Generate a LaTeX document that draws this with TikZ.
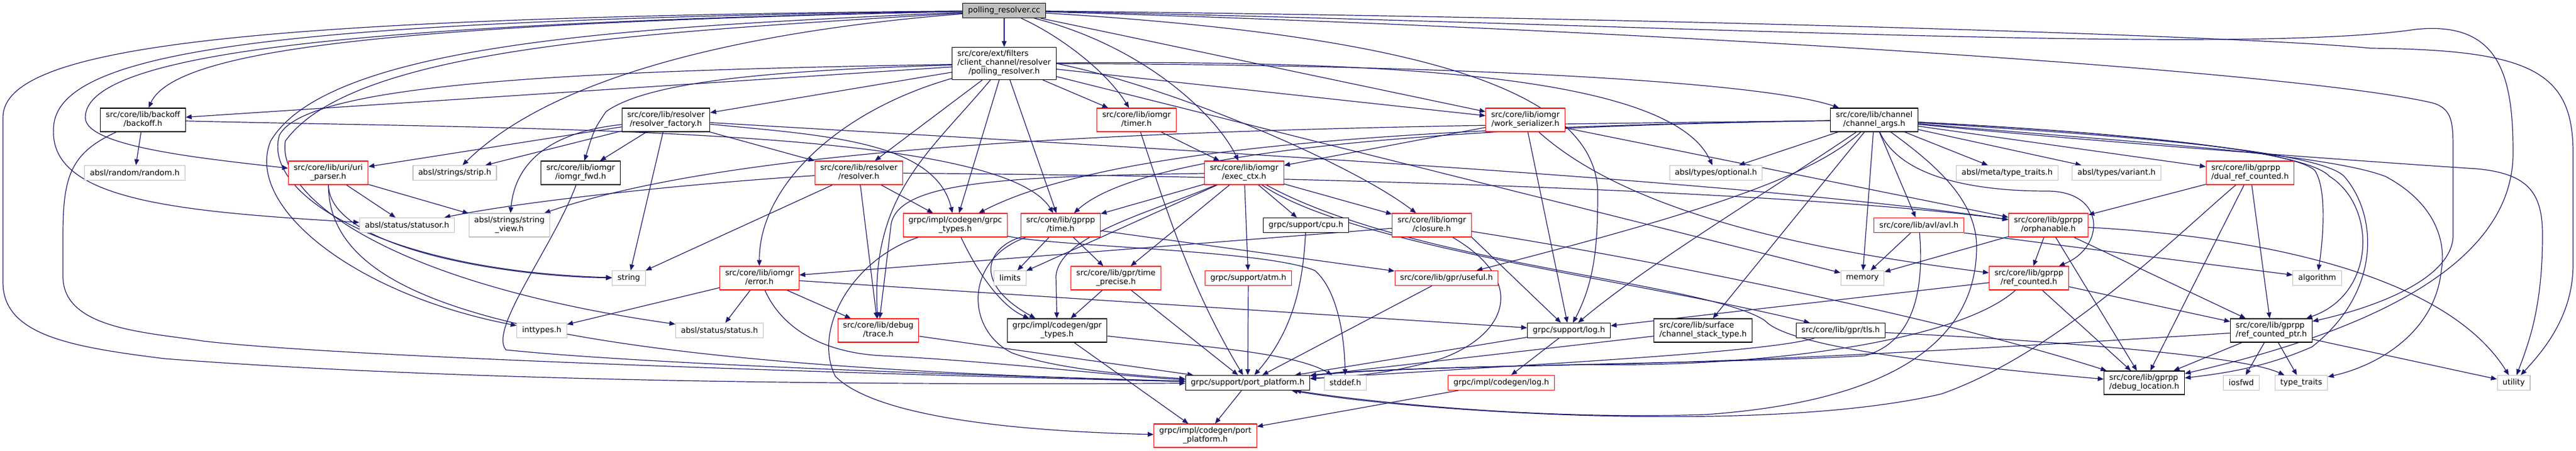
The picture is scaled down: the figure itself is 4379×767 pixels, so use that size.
\documentclass[tikz,border=0pt]{standalone}
\usepackage{fontspec}
\setmainfont{DejaVu Sans}
\usetikzlibrary{arrows.meta,backgrounds}
\definecolor{edgeblue}{HTML}{191970}
\definecolor{boxgray}{HTML}{BFBFBF}
\definecolor{boxred}{HTML}{FF0000}
% two or more lines: upper lines left, last line centred
\newcommand{\dlab}[2]{\begin{tabular}{@{}l@{}}#1\\\multicolumn{1}{@{}c@{}}{#2}\end{tabular}}

\begin{document}
\begin{tikzpicture}[
    x=1pt, y=-1pt,
    % GLOBAL CFG
    font=\fontsize{13.33}{15}\selectfont,
    % Styles
    basefile/.style={% For every header box
        rectangle,
        draw,
        fill=white,
        line width=1.2pt,
        inner xsep=9pt,
        inner ysep=5pt,
        minimum height=25pt,
        },
    topfile/.style={% For the file itself
        basefile,
        draw=black,
        fill=boxgray,
        },
    docfile/.style={% For documented headers
        basefile,
        draw=black,
        },
    redfile/.style={% For headers with a truncated graph
        basefile,
        draw=boxred,
        },
    extfile/.style={% For system and external headers
        basefile,
        draw=boxgray,
        },
    incl/.style={% Include arrows
        draw=edgeblue,
        line width=1.2pt,
        -{Triangle[length=10pt,width=8pt]},
        },
    ]
\useasboundingbox (0,0) rectangle (4379,767);

%Start drawing the thing...
    % Row 0 and 1
    \node [topfile] (cc) at (1707,18) {polling\_resolver.cc};
    \node [docfile] (prh) at (1707,108) {\dlab{src/core/ext/filters\\/client\_channel/resolver}{/polling\_resolver.h}};

    % Row 2
    \node [docfile] (backoff) at (243,204) {\dlab{src/core/lib/backoff}{/backoff.h}};
    \node [docfile] (rfactory) at (1132,204) {\dlab{src/core/lib/resolver}{/resolver\_factory.h}};
    \node [redfile] (timer) at (1932,204) {\dlab{src/core/lib/iomgr}{/timer.h}};
    \node [redfile] (workser) at (2593,204) {\dlab{src/core/lib/iomgr}{/work\_serializer.h}};
    \node [docfile] (chargs) at (3186,204) {\dlab{src/core/lib/channel}{/channel\_args.h}};

    % Row 3
    \node [extfile] (random) at (229,294) {absl/random/random.h};
    \node [redfile] (uri) at (558,294) {\dlab{src/core/lib/uri/uri}{\_parser.h}};
    \node [extfile] (strip) at (773,294) {absl/strings/strip.h};
    \node [docfile] (iofwd) at (987,294) {\dlab{src/core/lib/iomgr}{/iomgr\_fwd.h}};
    \node [redfile] (resolver) at (1460,294) {\dlab{src/core/lib/resolver}{/resolver.h}};
    \node [redfile] (execctx) at (2115,294) {\dlab{src/core/lib/iomgr}{/exec\_ctx.h}};
    \node [extfile] (optional) at (2917,294) {absl/types/optional.h};
    \node [extfile] (metatt) at (3412,294) {absl/meta/type\_traits.h};
    \node [extfile] (variant) at (3598,294) {absl/types/variant.h};
    \node [redfile] (dualref) at (3825,294) {\dlab{src/core/lib/gprpp}{/dual\_ref\_counted.h}};

    % Row 4
    \node [extfile] (statusor) at (692,383) {absl/status/statusor.h};
    \node [extfile] (strview) at (866,383) {\dlab{absl/strings/string}{\_view.h}};
    \node [redfile] (grpctypes) at (1624,383) {\dlab{grpc/impl/codegen/grpc}{\_types.h}};
    \node [redfile] (time) at (1803,383) {\dlab{src/core/lib/gprpp}{/time.h}};
    \node [docfile] (cpu) at (2220,383) {grpc/support/cpu.h};
    \node [redfile] (closure) at (2434,383) {\dlab{src/core/lib/iomgr}{/closure.h}};
    \node [redfile] (avl) at (3262,383) {src/core/lib/avl/avl.h};
    \node [redfile] (orphan) at (3482,383) {\dlab{src/core/lib/gprpp}{/orphanable.h}};

    % Row 5
    \node [extfile] (string) at (1069,473) {string};
    \node [redfile] (error) at (1291,473) {\dlab{src/core/lib/iomgr}{/error.h}};
    \node [extfile] (limits) at (1717,473) {limits};
    \node [redfile] (tprecise) at (1897,473) {\dlab{src/core/lib/gpr/time}{\_precise.h}};
    \node [redfile] (atm) at (2122,473) {grpc/support/atm.h};
    \node [redfile] (useful) at (2459,473) {src/core/lib/gpr/useful.h};
    \node [extfile] (memory) at (3166,473) {memory};
    \node [redfile] (refcnt) at (3449,473) {\dlab{src/core/lib/gprpp}{/ref\_counted.h}};
    \node [extfile] (algorithm) at (3939,473) {algorithm};

    % Row 6
    \node [extfile] (inttypes) at (921,562) {inttypes.h};
    \node [extfile] (status) at (1223,562) {absl/status/status.h};
    \node [redfile] (trace) at (1493,562) {\dlab{src/core/lib/debug}{/trace.h}};
    \node [docfile] (gprtypes) at (1797,562) {\dlab{grpc/impl/codegen/gpr}{\_types.h}};
    \node [docfile] (log) at (2667,562) {grpc/support/log.h};
    \node [docfile] (chstack) at (2895,562) {\dlab{src/core/lib/surface}{/channel\_stack\_type.h}};
    \node [docfile] (tls) at (3129,562) {src/core/lib/gpr/tls.h};
    \node [docfile] (refptr) at (3861,562) {\dlab{src/core/lib/gprpp}{/ref\_counted\_ptr.h}};

    % Row 7 and 8
    \node [docfile] (portplat) at (2121,651) {grpc/support/port\_platform.h};
    \node [extfile] (stddef) at (2287,651) {stddef.h};
    \node [redfile] (cglog) at (2552,651) {grpc/impl/codegen/log.h};
    \node [docfile] (debugloc) at (3645,651) {\dlab{src/core/lib/gprpp}{/debug\_location.h}};
    \node [extfile] (iosfwd) at (3810,651) {iosfwd};
    \node [extfile] (typetraits) at (3912,651) {type\_traits};
    \node [extfile] (utility) at (4273,651) {utility};
    \node [redfile] (cgport) at (2049,741) {\dlab{grpc/impl/codegen/port}{\_platform.h}};

% Start connecting all.
\begin{scope}[on background layer]
    % From polling_resolver.cc
    \draw [incl] (cc) -- (prh);
    \draw [incl] (cc) .. controls (700,40) and (300,80) .. (backoff);
    \draw [incl] (cc) .. controls (600,40) and (145,90) .. (145,200) .. controls (145,250) and (350,270) .. (uri);
    \draw [incl] (cc) .. controls (500,35) and (91,80) .. (91,220) .. controls (85,340) and (300,360) .. (statusor);
    \draw [incl] (cc) .. controls (400,30) and (5,80) .. (5,200) -- (5,480) .. controls (5,570) and (120,590) .. (280,610) .. controls (800,650) and (1500,655) .. (portplat);
    \draw [incl] (cc) .. controls (1300,50) and (950,120) .. (strip);
    \draw [incl] (cc) .. controls (1100,45) and (560,70) .. (460,240) .. controls (415,350) and (600,500) .. (inttypes);
    \draw [incl] (cc) .. controls (1100,55) and (600,80) .. (485,240) .. controls (470,330) and (650,480) .. (status);
    \draw [incl] (cc) .. controls (1800,60) and (1880,120) .. (timer);
    \draw [incl] (cc) .. controls (1950,80) and (2070,200) .. (execctx);
    \draw [incl] (cc) -- (workser);
    \draw [incl] (cc) .. controls (2400,60) and (2716,150) .. (2716,330) .. controls (2716,420) and (2710,480) .. (log);
    \draw [incl] (cc) .. controls (2800,50) and (3900,120) .. (4135,175) .. controls (4170,185) and (4170,210) .. (4170,260) -- (4170,400) .. controls (4170,470) and (4050,520) .. (refptr);
    \draw [incl] (cc) .. controls (2800,40) and (3800,95) .. (4106,50) .. controls (4250,35) and (4272,130) .. (4272,260) .. controls (4272,460) and (4000,570) .. (debugloc);
    \draw [incl] (cc) .. controls (2800,30) and (3800,60) .. (4030,82) .. controls (4300,85) and (4374,120) .. (4374,260) -- (4374,450) .. controls (4374,540) and (4320,600) .. (utility);

    % From polling_resolver.h
    \draw [incl] (prh) -- (backoff);
    \draw [incl] (prh) -- (rfactory);
    \draw [incl] (prh) -- (timer);
    \draw [incl] (prh) -- (workser);
    \draw [incl] (prh) .. controls (2500,110) and (3000,140) .. (chargs);
    \draw [incl] (prh) .. controls (1300,120) and (1100,140) .. (1030,190) .. controls (1010,220) .. (iofwd);
    \draw [incl] (prh) -- (resolver);
    \draw [incl] (prh) .. controls (2500,100) and (2850,150) .. (optional);
    \draw [incl] (prh) -- (grpctypes);
    \draw [incl] (prh) -- (time);
    \draw [incl] (prh.east) .. controls (2000,150) and (2300,280) .. (closure);
    \draw [incl] (prh) .. controls (1420,190) and (1290,320) .. (error);
    \draw [incl] (prh) .. controls (1580,260) and (1480,330) .. (trace);
    \draw [incl] (prh) -- (memory);
    \draw [incl] (prh) .. controls (1000,120) and (520,140) .. (475,230) .. controls (445,330) and (650,460) .. (string);

    % From the second row
    \draw [incl] (backoff) -- (random);
    \draw [incl] (backoff) .. controls (900,220) and (1700,215) .. (time);
    \draw [incl] (backoff) .. controls (120,260) and (107,300) .. (107,400) -- (107,470) .. controls (107,560) and (250,565) .. (345,580) .. controls (600,610) and (1600,640) .. (portplat);
    \draw [incl] (rfactory) -- (iofwd);
    \draw [incl] (rfactory) -- (strip);
    \draw [incl] (rfactory) -- (uri);
    \draw [incl] (rfactory) .. controls (930,225) and (875,280) .. (strview);
    \draw [incl] (rfactory) -- (resolver);
    \draw [incl] (rfactory) -- (string);
    \draw [incl] (rfactory) .. controls (1400,230) and (1590,240) .. (grpctypes);
    \draw [incl] (rfactory) .. controls (1900,250) and (2900,300) .. (orphan);
    \draw [incl] (timer) -- (execctx);
    \draw [incl] (timer) .. controls (1990,380) and (2030,500) .. (portplat);
    \draw [incl] (workser) -- (execctx);
    \draw [incl] (workser) -- (log);
    \draw [incl] (workser) -- (orphan);
    \draw [incl] (workser) .. controls (2800,390) and (3200,440) .. (refcnt);

    % From channel_args.h
    \draw [incl] (chargs) -- (optional);
    \draw [incl] (chargs) -- (metatt);
    \draw [incl] (chargs) -- (variant);
    \draw [incl] (chargs) -- (dualref);
    \draw [incl] (chargs) -- (avl);
    \draw [incl] (chargs) -- (memory);
    \draw [incl] (chargs) -- (chstack);
    \draw [incl] (chargs) .. controls (3080,300) and (2900,360) .. (useful);
    \draw [incl] (chargs) .. controls (3000,330) and (2800,450) .. (log);
    \draw [incl] (chargs) .. controls (3230,300) and (3350,325) .. (3480,325) .. controls (3580,325) and (3580,420) .. (refcnt);
    \draw [incl] (chargs) .. controls (3290,280) and (3360,340) .. (3360,420) .. controls (3360,560) and (3250,680) .. (2900,705) .. controls (2600,715) and (2300,680) .. (portplat);
    \draw [incl] (chargs) .. controls (2500,215) and (1900,240) .. (grpctypes);
    \draw [incl] (chargs) .. controls (2500,215) and (1950,250) .. (time);
    \draw [incl] (chargs) .. controls (2400,215) and (1350,215) .. (strview);
    \draw [incl] (chargs) .. controls (3600,225) and (3900,255) .. (3935,290) .. controls (3955,320) and (3950,400) .. (algorithm);
    \draw [incl] (chargs) .. controls (3600,225) and (3920,255) .. (3960,300) .. controls (4040,350) and (4040,500) .. (refptr);
    \draw [incl] (chargs) .. controls (3600,230) and (3940,255) .. (3985,300) .. controls (4045,370) and (4045,500) .. (3930,590) .. controls (3850,625) and (3780,635) .. (debugloc);
    \draw [incl] (chargs) .. controls (3600,240) and (3950,260) .. (4055,300) .. controls (4130,340) and (4160,400) .. (4150,460) .. controls (4140,560) and (4050,620) .. (typetraits);
    \draw [incl] (chargs) .. controls (3600,245) and (4100,280) .. (4209,287) .. controls (4300,295) and (4322,330) .. (4322,400) .. controls (4322,520) and (4300,580) .. (utility);

    % From the third row
    \draw [incl] (uri) -- (statusor);
    \draw [incl] (uri) -- (strview);
    \draw [incl] (uri) .. controls (560,420) and (850,470) .. (string);
    \draw [incl] (uri) .. controls (560,520) and (900,620) .. (portplat);
    \draw [incl] (iofwd) .. controls (940,420) and (830,560) .. (860,595) .. controls (1100,620) and (1700,640) .. (portplat);
    \draw [incl] (resolver) -- (grpctypes);
    \draw [incl] (resolver) .. controls (1200,310) and (900,340) .. (statusor);
    \draw [incl] (resolver) -- (string);
    \draw [incl] (resolver) -- (trace);
    \draw [incl] (resolver) .. controls (2300,300) and (3100,330) .. (orphan);
    \draw [incl] (execctx) -- (cpu);
    \draw [incl] (execctx) -- (closure);
    \draw [incl] (execctx) -- (time);
    \draw [incl] (execctx) -- (limits);
    \draw [incl] (execctx) -- (tprecise);
    \draw [incl] (execctx) -- (atm);
    \draw [incl] (execctx) .. controls (2300,420) and (2800,480) .. (tls);
    \draw [incl] (execctx) .. controls (2400,450) and (2900,480) .. (3000,545) .. controls (3040,590) and (3300,620) .. (debugloc);
    \draw [incl] (execctx) .. controls (1960,360) and (1800,400) .. (1795,470) -- (gprtypes);
    \draw [incl] (execctx) .. controls (1700,300) and (1530,310) .. (1515,380) -- (trace);
    \draw [incl] (dualref) -- (orphan);
    \draw [incl] (dualref) -- (refptr);
    \draw [incl] (dualref) -- (debugloc);
    \draw [incl] (dualref) .. controls (3700,400) and (3500,600) .. (3300,670) .. controls (3000,740) and (2400,700) .. (portplat);

    % From the fourth row
    \draw [incl] (grpctypes) .. controls (1660,460) and (1700,520) .. (gprtypes);
    \draw [incl] (grpctypes) .. controls (1800,420) and (2150,425) .. (2235,460) .. controls (2270,490) and (2285,560) .. (stddef);
    \draw [incl] (grpctypes) .. controls (1450,440) and (1380,560) .. (1420,640) .. controls (1500,720) and (1800,735) .. (cgport);
    \draw [incl] (time) -- (limits);
    \draw [incl] (time) -- (tprecise);
    \draw [incl] (time) -- (useful);
    \draw [incl] (time) .. controls (1680,420) and (1650,480) .. (gprtypes);
    \draw [incl] (time) .. controls (1640,440) and (1640,560) .. (1720,600) .. controls (1800,630) and (1950,640) .. (portplat);
    \draw [incl] (cpu) .. controls (2215,480) and (2200,560) .. (portplat);
    \draw [incl] (closure) -- (error);
    \draw [incl] (closure.south east) -- (log);
    \draw [incl] (closure) .. controls (2800,440) and (3300,540) .. (debugloc);
    \draw [incl] (closure) .. controls (2600,480) and (2560,570) .. (2450,610) .. controls (2350,640) and (2280,640) .. (portplat);
    \draw [incl] (avl) -- (memory);
    \draw [incl] (avl.south east) -- (algorithm);
    \draw [incl] (avl) .. controls (3270,480) and (3260,580) .. (3170,605) .. controls (2900,620) and (2400,620) .. (portplat);
    \draw [incl] (orphan) -- (memory);
    \draw [incl] (orphan) -- (refcnt);
    \draw [incl] (orphan) -- (debugloc);
    \draw [incl] (orphan) -- (refptr);
    \draw [incl] (orphan) .. controls (3800,400) and (4150,455) .. (utility);

    % From the fifth row
    \draw [incl] (error) -- (inttypes);
    \draw [incl] (error) -- (status);
    \draw [incl] (error) -- (trace);
    \draw [incl] (error) -- (log);
    \draw [incl] (error) .. controls (1330,560) and (1400,600) .. (1500,605) .. controls (1700,615) and (1900,640) .. (portplat);
    \draw [incl] (tprecise) -- (gprtypes);
    \draw [incl] (tprecise) -- (portplat);
    \draw [incl] (atm) -- (portplat);
    \draw [incl] (useful) -- (portplat);
    \draw [incl] (refcnt) -- (debugloc);
    \draw [incl] (refcnt) -- (refptr);
    \draw [incl] (refcnt) -- (log);
    \draw [incl] (refcnt) .. controls (3330,580) and (3000,625) .. (2700,620) .. controls (2450,625) and (2300,630) .. (portplat);

    % From the sixth row
    \draw [incl] (trace) -- (portplat);
    \draw [incl] (gprtypes) -- (cgport);
    \draw [incl] (gprtypes) .. controls (2050,590) and (2200,600) .. (stddef);
    \draw [incl] (log) -- (portplat);
    \draw [incl] (log) -- (cglog);
    \draw [incl] (chstack) -- (portplat);
    \draw [incl] (tls) .. controls (3000,600) and (2600,620) .. (portplat);
    \draw [incl] (tls) .. controls (3400,575) and (3800,600) .. (typetraits);
    \draw [incl] (refptr) -- (iosfwd);
    \draw [incl] (refptr) -- (typetraits);
    \draw [incl] (refptr) -- (utility);
    \draw [incl] (refptr) -- (debugloc);
    \draw [incl] (refptr) .. controls (3500,585) and (3000,615) .. (2700,620) .. controls (2450,625) and (2300,630) .. (portplat);

    % Platform headers
    \draw [incl] (portplat) -- (cgport);
    \draw [incl] (cglog) -- (cgport);
\end{scope}
\end{tikzpicture}
\end{document}
